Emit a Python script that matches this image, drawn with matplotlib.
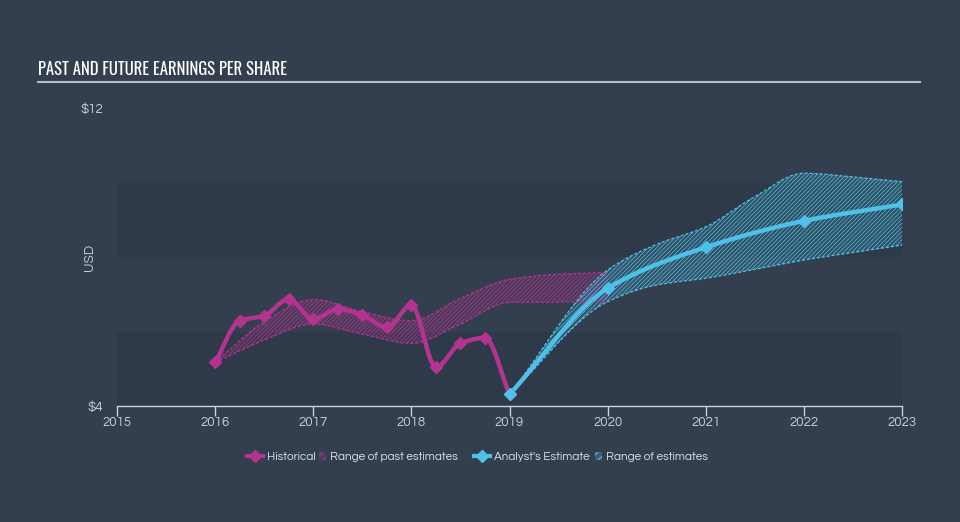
import numpy as np
import matplotlib
matplotlib.use("Agg")
import matplotlib.pyplot as plt
from matplotlib.lines import Line2D
from matplotlib.patches import Patch

# data
hist_x = [2016.0, 2016.25, 2016.5, 2016.75, 2017.0, 2017.25, 2017.5, 2017.75,
          2018.0, 2018.25, 2018.5, 2018.75, 2019.0]
hist_y = [5.17, 6.29, 6.42, 6.87, 6.33, 6.60, 6.44, 6.11, 6.71, 5.04, 5.68, 5.83, 4.31]

past_x = [2016.0, 2016.5, 2017.0, 2017.5, 2018.0, 2018.5, 2019.0, 2019.5, 2020.0]
past_low = [5.17, 5.77, 6.20, 5.93, 5.68, 6.20, 6.78, 6.79, 6.80]
past_high = [5.17, 6.26, 6.86, 6.53, 6.29, 6.89, 7.40, 7.54, 7.58]

est_x = [2019.0, 2020.0, 2021.0, 2022.0, 2023.0]
est_y = [4.31, 7.16, 8.26, 8.97, 9.41]

band_x = [2019.0, 2020.0, 2020.5, 2021.0, 2021.5, 2022.0, 2022.5, 2023.0]
band_low = [4.31, 6.80, 7.25, 7.43, 7.67, 7.92, 8.12, 8.32]
band_high = [4.31, 7.65, 8.34, 8.81, 9.62, 10.25, 10.15, 10.02]

x_ticks = [2015, 2016, 2017, 2018, 2019, 2020, 2021, 2022, 2023]
y_ticks = [4, 12]
y_ticklabels = ["$4", "$12"]
stripes = [(4, 6), (8, 10)]

BG = "#333f4f"
STRIPE = "#2e3a49"
MAG = "#b4338f"
CYAN = "#4fc1e9"
TXT = "#c9ced4"
LABEL_FONT = ["Questrial", "Lato", "DejaVu Sans"]
TITLE_FONT = ["Oswald", "Roboto Condensed", "Archivo Narrow", "DejaVu Sans"]


def monotone(x, y, n=300):
    # monotone cubic (Fritsch-Carlson), just for drawing smooth curves
    x = np.asarray(x, float)
    y = np.asarray(y, float)
    h = np.diff(x)
    d = np.diff(y) / h
    m = np.zeros_like(y)
    m[0], m[-1] = d[0], d[-1]
    for i in range(1, len(y) - 1):
        if d[i - 1] * d[i] <= 0:
            m[i] = 0
        else:
            w1 = 2 * h[i] + h[i - 1]
            w2 = h[i] + 2 * h[i - 1]
            m[i] = (w1 + w2) / (w1 / d[i - 1] + w2 / d[i])
    xs = np.linspace(x[0], x[-1], n)
    k = np.clip(np.searchsorted(x, xs) - 1, 0, len(x) - 2)
    t = (xs - x[k]) / h[k]
    h00 = 2 * t**3 - 3 * t**2 + 1
    h10 = t**3 - 2 * t**2 + t
    h01 = -2 * t**3 + 3 * t**2
    h11 = t**3 - t**2
    ys = h00 * y[k] + h10 * h[k] * m[k] + h01 * y[k + 1] + h11 * h[k] * m[k + 1]
    return xs, ys


plt.rcParams["hatch.linewidth"] = 0.5
fig = plt.figure(figsize=(9.6, 5.22), dpi=100, facecolor=BG)
ax = fig.add_axes([117 / 960, 1 - 406 / 522, 785 / 960, 298 / 522])
ax.set_facecolor(BG)

for lo, hi in stripes:
    ax.axhspan(lo, hi, color=STRIPE, lw=0, zorder=0)

# past estimates range
px, pl = monotone(past_x, past_low)
_, ph = monotone(past_x, past_high)
ax.fill_between(px, pl, ph, facecolor=MAG, alpha=0.15, lw=0, zorder=1)
ax.fill_between(px, pl, ph, facecolor="none", edgecolor=MAG, hatch="////////", lw=0, zorder=1)
ax.plot(px, pl, color=MAG, lw=0.9, ls=(0, (2.5, 1.5)), zorder=2)
ax.plot(px, ph, color=MAG, lw=0.9, ls=(0, (2.5, 1.5)), zorder=2)

# future estimates range
bx, bl = monotone(band_x, band_low)
_, bh = monotone(band_x, band_high)
ax.fill_between(bx, bl, bh, facecolor=CYAN, alpha=0.15, lw=0, zorder=1)
ax.fill_between(bx, bl, bh, facecolor="none", edgecolor=CYAN, hatch="////////", lw=0, zorder=1)
ax.plot(bx, bl, color=CYAN, lw=0.9, ls=(0, (2.5, 1.5)), zorder=2)
ax.plot(bx, bh, color=CYAN, lw=0.9, ls=(0, (2.5, 1.5)), zorder=2)

hx, hy = monotone(hist_x, hist_y, 600)
ax.plot(hx, hy, color=MAG, lw=3.2, solid_capstyle="round", zorder=3)
ax.plot(hist_x, hist_y, ls="none", marker="D", ms=6.5, color=MAG, mec=MAG, zorder=4)

ex, ey = monotone(est_x, est_y)
ax.plot(ex, ey, color=CYAN, lw=3.2, solid_capstyle="round", zorder=3)
ax.plot(est_x, est_y, ls="none", marker="D", ms=6.5, color=CYAN, mec=CYAN, zorder=4)

ax.set_xlim(2015, 2023)
ax.set_ylim(4, 12)
ax.set_xticks(x_ticks)
ax.set_xticklabels([str(v) for v in x_ticks], color=TXT, fontsize=9.5, family=LABEL_FONT)
ax.set_yticks(y_ticks)
ax.set_yticklabels(y_ticklabels, color=TXT, fontsize=9.5, family=LABEL_FONT)
ax.tick_params(axis="x", colors="#c9d1da", length=7, width=1, pad=0, labelcolor=TXT)
ax.tick_params(axis="y", length=0, pad=10, labelcolor=TXT)
for s in ["top", "right", "left"]:
    ax.spines[s].set_visible(False)
ax.spines["bottom"].set_color("#c9d1da")
ax.spines["bottom"].set_linewidth(1)
ax.set_ylabel("USD", color=TXT, fontsize=9.5, family=LABEL_FONT)
ax.yaxis.set_label_coords(-0.027, 0.5)

# title and rule
fig.text(38 / 960, 1 - 75 / 522, "PAST AND FUTURE EARNINGS PER SHARE", color="white",
         fontsize=12, fontweight="bold", family=TITLE_FONT,
         va="baseline", ha="left")
fig.add_artist(Line2D([38 / 960, 920 / 960], [1 - 82 / 522, 1 - 82 / 522],
                      color="#b8bec6", lw=1.5, transform=fig.transFigure))

# legend: one small legend per entry so the hatch icons can stay small
plt.rcParams["hatch.linewidth"] = 0.8
legend_items = [
    (Line2D([], [], color=MAG, lw=3, marker="D", ms=6), "Historical", 247, 1.35),
    (Patch(facecolor=(0.71, 0.2, 0.56, 0.25), edgecolor=MAG, hatch="////", lw=0),
     "Range of past estimates", 319, 0.6),
    (Line2D([], [], color=CYAN, lw=3, marker="D", ms=6), "Analyst's Estimate", 474, 1.35),
    (Patch(facecolor=(0.31, 0.76, 0.91, 0.25), edgecolor=CYAN, hatch="////", lw=0),
     "Range of estimates", 595, 0.6),
]
for handle, label, xpix, hl in legend_items:
    leg = fig.legend([handle], [label], loc="center left",
                     bbox_to_anchor=(xpix / 960, 1 - 457 / 522),
                     frameon=False, labelcolor="#dde1e5",
                     prop={"family": LABEL_FONT, "size": 8.5},
                     handlelength=hl, handleheight=0.7, handletextpad=0.35,
                     borderpad=0, borderaxespad=0)

fig.savefig("out.png", dpi=100, facecolor=BG)
